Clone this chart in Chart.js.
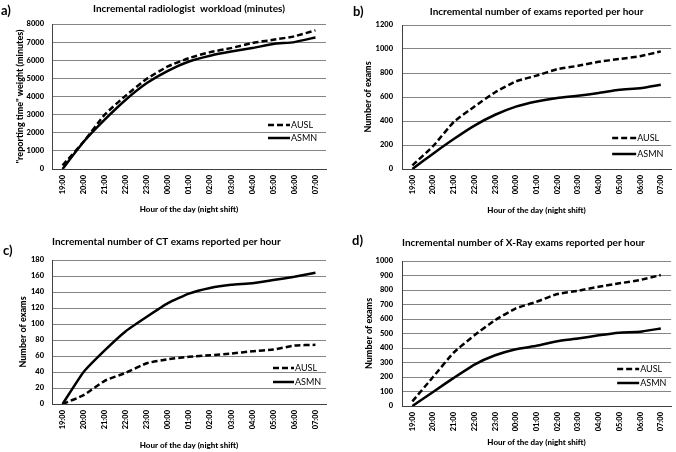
<!DOCTYPE html>
<html>
<head>
<meta charset="utf-8">
<script src="https://cdn.jsdelivr.net/npm/chart.js@4.4.1/dist/chart.umd.min.js"></script>
<style>
  body { margin: 0; background: #fff; }
  #wrap { position: relative; width: 676px; height: 452px; overflow: hidden; }
  .panel { position: absolute; }
  .tag { position: absolute; font: bold 13px Lato, sans-serif; color: #000; }
</style>
</head>
<body>
<div id="wrap">
  <div class="panel" style="left:0;top:0;width:338px;height:225px"><canvas id="chartA"></canvas></div>
  <div class="panel" style="left:336px;top:0;width:340px;height:225px"><canvas id="chartB"></canvas></div>
  <div class="panel" style="left:0;top:225px;width:338px;height:227px"><canvas id="chartC"></canvas></div>
  <div class="panel" style="left:336px;top:225px;width:340px;height:227px"><canvas id="chartD"></canvas></div>
  <div class="tag" style="left:1px;top:2px">a)</div>
  <div class="tag" style="left:353px;top:3px">b)</div>
  <div class="tag" style="left:3px;top:242px">c)</div>
  <div class="tag" style="left:352px;top:232px">d)</div>
</div>
<script>
const hours = ["19:00", "20:00", "21:00", "22:00", "23:00", "00:00", "01:00",
    "02:00", "03:00", "04:00", "05:00", "06:00", "07:00"];

// a) workload in minutes
const workloadAUSL = [200, 1500, 3000, 4050, 4980, 5660, 6120, 6450, 6670, 6950, 7130, 7320, 7650];
const workloadASMN = [0, 1500, 2720, 3820, 4740, 5420, 5930, 6250, 6480, 6670, 6900, 7000, 7260];

// b) all exams
const examsAUSL = [30, 190, 392, 520, 640, 730, 778, 832, 860, 893, 917, 940, 980];
const examsASMN = [0, 128, 250, 362, 452, 520, 563, 592, 611, 633, 660, 673, 702];

// c) CT exams
const ctAUSL = [0, 11, 29, 39, 51, 56, 59, 61, 63, 66, 68, 73, 74];
const ctASMN = [0, 40, 67, 91, 109, 126, 138, 145, 149, 151, 155, 159, 164];

// d) X-Ray exams
const xrayAUSL = [32, 200, 369, 488, 592, 673, 719, 772, 795, 823, 846, 869, 903];
const xrayASMN = [0, 97, 194, 286, 350, 392, 415, 447, 465, 488, 506, 512, 535];

const FONT = "Lato, 'Liberation Sans', sans-serif";

// legend drawn inside the plot area, lower right, like the original
const innerLegend = {
    id: "innerLegend",
    afterDraw(chart, args, opts) {
        const { ctx, chartArea } = chart;
        ctx.save();
        ctx.font = "9px " + FONT;
        ctx.fillStyle = "#000";
        ctx.textBaseline = "middle";
        chart.data.datasets.forEach((ds, i) => {
            const y = chartArea.bottom - opts.bottom + i * opts.gap;
            const x0 = chartArea.right - opts.right;
            ctx.beginPath();
            ctx.setLineDash(ds.borderDash || []);
            ctx.lineWidth = 2.5;
            ctx.strokeStyle = "#000";
            ctx.moveTo(x0, y);
            ctx.lineTo(x0 + opts.len, y);
            ctx.stroke();
            ctx.setLineDash([]);
            ctx.fillText(ds.label, x0 + opts.len + 1, y);
        });
        ctx.restore();
    }
};

function makeChart(id, p) {
    const canvas = document.getElementById(id);
    return new Chart(canvas, {
        type: "line",
        data: {
            labels: hours,
            datasets: [
                {
                    label: "AUSL",
                    data: p.ausl,
                    borderColor: "#000",
                    borderWidth: 2.5,
                    borderDash: [6, 3],
                    pointRadius: 0,
                    tension: 0.15
                },
                {
                    label: "ASMN",
                    data: p.asmn,
                    borderColor: "#000",
                    borderWidth: 2.5,
                    pointRadius: 0,
                    tension: 0.15
                }
            ]
        },
        options: {
            responsive: true,
            maintainAspectRatio: false,
            animation: false,
            layout: { padding: { left: 0, right: p.padRight, top: 0, bottom: 0 } },
            plugins: {
                legend: { display: false },
                tooltip: { enabled: false },
                title: {
                    display: true,
                    text: p.title,
                    fullSize: false,
                    align: p.titleAlign,
                    color: "#000",
                    font: { family: FONT, size: 10, weight: "bold", lineHeight: 1.2 },
                    padding: { top: p.titleTop, bottom: p.titleBottom }
                },
                innerLegend: p.legend
            },
            scales: {
                x: {
                    offset: true,
                    afterFit(scale) { scale.height = p.xHeight; },
                    grid: { display: false, drawTicks: false },
                    border: { display: true, color: "#404040", width: 1 },
                    ticks: {
                        color: "#000",
                        minRotation: 90,
                        maxRotation: 90,
                        autoSkip: false,
                        padding: 6,
                        font: { family: FONT, size: 7.5, weight: "900" }
                    },
                    title: {
                        display: true,
                        text: "Hour of the day (night shift)",
                        color: "#000",
                        font: { family: FONT, size: 8, weight: "900", lineHeight: 1.2 },
                        padding: { top: 0, bottom: p.xTitlePad }
                    }
                },
                y: {
                    min: 0,
                    max: p.max,
                    afterFit(scale) { scale.width = p.yWidth; },
                    grid: { color: "#858585", lineWidth: 1, drawTicks: false },
                    border: { display: true, color: "#404040", width: 1 },
                    ticks: {
                        stepSize: p.step,
                        color: "#000",
                        padding: p.yTickPad,
                        callback: (v) => String(v),
                        font: { family: FONT, size: 7.5, weight: "900" }
                    },
                    title: {
                        display: true,
                        text: p.yTitle,
                        color: "#000",
                        font: { family: FONT, size: 9, weight: "900", lineHeight: 1.2 },
                        padding: { top: p.yTitlePad, bottom: 0 }
                    }
                }
            }
        },
        plugins: [innerLegend]
    });
}

makeChart("chartA", {
    title: "Incremental radiologist  workload (minutes)",
    titleAlign: "center", titleTop: 3, titleBottom: 9,
    yTitle: "\"reporting time\" weight (minutes)",
    ausl: workloadAUSL, asmn: workloadASMN,
    max: 8000, step: 1000,
    yWidth: 52, yTickPad: 8, yTitlePad: 15,
    xHeight: 56, xTitlePad: 11, padRight: 12,
    legend: { right: 58, bottom: 44, gap: 13, len: 22 }
});

makeChart("chartB", {
    title: "Incremental number of exams reported per hour",
    titleAlign: "center", titleTop: 6, titleBottom: 7,
    yTitle: "Number of exams",
    ausl: examsAUSL, asmn: examsASMN,
    max: 1200, step: 200,
    yWidth: 66, yTickPad: 9, yTitlePad: 27,
    xHeight: 56, xTitlePad: 10, padRight: 3,
    legend: { right: 59, bottom: 31, gap: 16, len: 24 }
});

makeChart("chartC", {
    title: "Incremental number of CT exams reported per hour",
    titleAlign: "start", titleTop: 11, titleBottom: 12,
    yTitle: "Number of exams",
    ausl: ctAUSL, asmn: ctASMN,
    max: 180, step: 20,
    yWidth: 52, yTickPad: 8, yTitlePad: 18,
    xHeight: 48, xTitlePad: 2, padRight: 12,
    legend: { right: 53, bottom: 36, gap: 14, len: 21 }
});

makeChart("chartD", {
    title: "Incremental number of X-Ray exams reported per hour",
    titleAlign: "start", titleTop: 12, titleBottom: 12,
    yTitle: "Number of exams",
    ausl: xrayAUSL, asmn: xrayASMN,
    max: 1000, step: 100,
    yWidth: 66, yTickPad: 9, yTitlePad: 28,
    xHeight: 46, xTitlePad: 5, padRight: 3,
    legend: { right: 54, bottom: 37, gap: 14, len: 22 }
});
</script>
</body>
</html>
